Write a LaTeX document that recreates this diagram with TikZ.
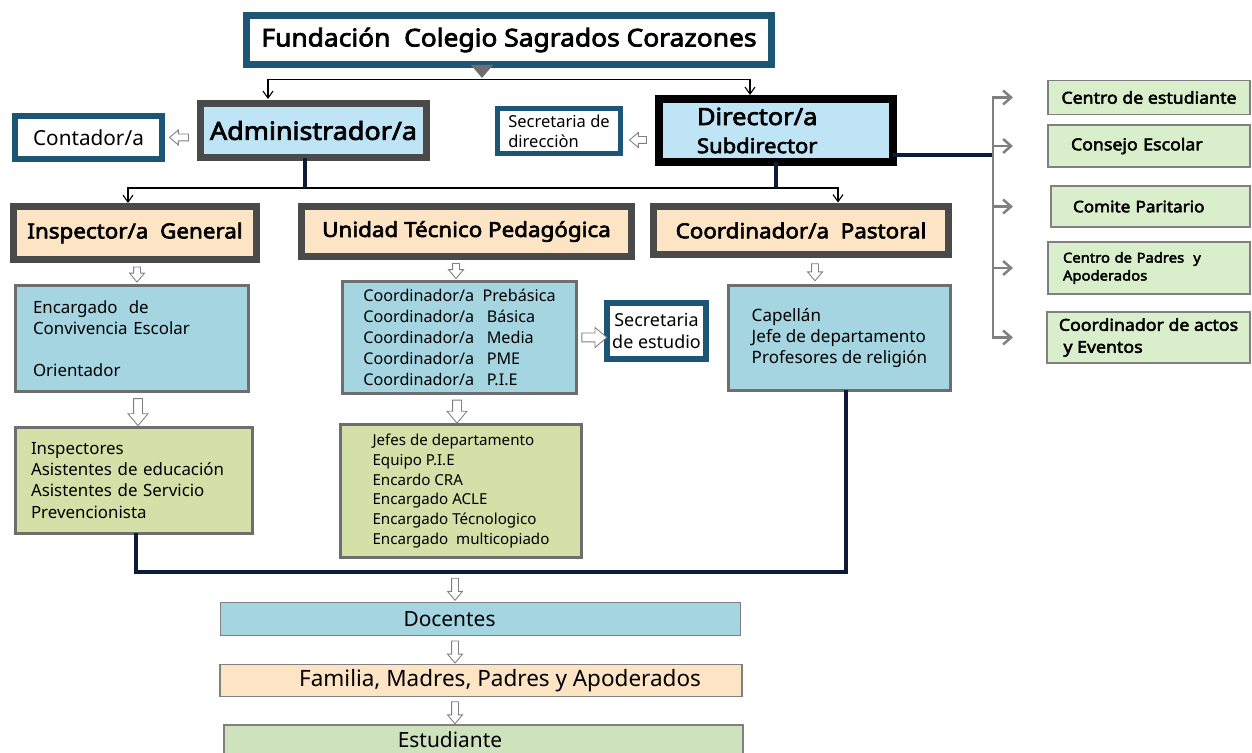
\documentclass[tikz,border=0pt]{standalone}
\usepackage{fontspec}
\setmainfont{Noto Sans}
\newfontfamily\negrita{Noto Sans}[FakeBold=3, FakeStretch=1.08]
\usetikzlibrary{calc}
\usetikzlibrary{arrows.meta}
\usetikzlibrary{shapes.arrows}

\definecolor{tealb}{HTML}{1D5674}
\definecolor{grisb}{HTML}{4A4A4A}
\definecolor{celeste}{HTML}{BEE4F5}
\definecolor{crema}{HTML}{FCE4C4}
\definecolor{azulc}{HTML}{A5D5E1}
\definecolor{oliva}{HTML}{D4E0A8}
\definecolor{verdec}{HTML}{D9EECB}
\definecolor{verdee}{HTML}{CEE2BE}
\definecolor{marino}{HTML}{0E1B38}
\definecolor{grisl}{HTML}{6E6E6E}

\begin{document}
\begin{tikzpicture}[x=0.02cm, y=-0.02cm,
    caja/.style={draw, inner sep=0pt, outer sep=0pt, align=center},
    blanca/.style={caja, draw=tealb, fill=white},
    jefe/.style={caja, draw=grisb, line width=0.14cm, fill=celeste},
    area/.style={caja, draw=grisb, line width=0.14cm, fill=crema, font=\fontsize{11.8}{14}\selectfont\negrita},
    lista/.style={caja, draw=grisl, line width=0.06cm, align=left, font=\fontsize{9.6}{12}\selectfont},
    consejo/.style={caja, draw=gray, line width=0.03cm, fill=verdec, align=left, font=\fontsize{9.35}{12.5}\selectfont\negrita},
    franja/.style={caja, draw=gray, line width=0.03cm},
    navy/.style={draw=marino, line width=0.08cm},
    flecha/.style={draw=black, line width=0.022cm, {Straight Barb[length=0.14cm,width=0.2cm]}-{Straight Barb[length=0.14cm,width=0.2cm]}},
    gflecha/.style={draw=gray, line width=0.05cm, -{Straight Barb[length=0.16cm,width=0.28cm]}},
    hueca/.style={single arrow, draw=gray, fill=white, line width=0.5pt, inner sep=0.06cm, single arrow head extend=0.08cm, single arrow tip angle=80, minimum height=#1, sloped, allow upside down},
    hueca/.default=0.38cm,
    huecag/.style={hueca=#1, inner sep=0.08cm, single arrow head extend=0.11cm}
]
    \useasboundingbox (0,0) rectangle (1252,753);

    % direccion
    \node[blanca, line width=0.14cm, minimum width=10.5cm, minimum height=1cm, font=\fontsize{13.9}{16}\selectfont\negrita] (fund) at (509,40) {Fundación\ \ Colegio Sagrados Corazones};
    \node[blanca, line width=0.12cm, minimum width=2.94cm, minimum height=0.86cm, font=\fontsize{11.8}{14}\selectfont] (cont) at (88.5,137.5) {Contador/a};
    \node[jefe, minimum width=4.54cm, minimum height=1.1cm, font=\fontsize{14.2}{17}\selectfont\negrita] (admin) at (313.5,130.5) {Administrador/a};
    \node[blanca, line width=0.1cm, minimum width=2.48cm, minimum height=0.92cm, align=left, font=\fontsize{9.4}{11.4}\selectfont] (secdir) at (559,131) {Secretaria de\\direcciòn};
    \node[jefe, draw=black, line width=0.16cm, minimum width=4.68cm, minimum height=1.26cm, text width=3.16cm, inner xsep=0.76cm, align=left, font=\fontsize{11.6}{16}\selectfont\negrita] (dir) at (776,130.5) {{\fontsize{13.4}{16}\selectfont Director/a}\\Subdirector};

    % consejos
    \node[consejo, minimum width=4.04cm, minimum height=0.68cm] (cest) at (1149,97.5) {Centro de estudiante};
    \node[consejo, minimum width=4.04cm, minimum height=0.84cm, text width=3.12cm, inner xsep=0.46cm] (cons) at (1149,146) {Consejo Escolar};
    \node[consejo, minimum width=3.98cm, minimum height=0.82cm, text width=3.1cm, inner xsep=0.44cm, font=\fontsize{9}{12}\selectfont\negrita] (comi) at (1150.5,206.5) {Comite Paritario};
    \node[consejo, minimum width=4.04cm, minimum height=1.04cm, text width=3.44cm, inner xsep=0.3cm, font=\fontsize{7.8}{10.2}\selectfont\negrita] (cpad) at (1149,268) {Centro de Padres\ \ y\\Apoderados};
    \node[consejo, minimum width=4.06cm, minimum height=1.02cm] (cact) at (1148.5,337.5) {Coordinador de actos\\\ y Eventos};

    % areas
    \node[area, minimum width=4.86cm, minimum height=1.06cm] (insp) at (135,233) {Inspector/a\ \ General};
    \node[area, minimum width=6.6cm, minimum height=1cm] (utp) at (466.5,231.5) {Unidad Técnico Pedagógica};
    \node[area, minimum width=5.9cm, minimum height=0.98cm] (past) at (801,230.5) {Coordinador/a\ \ Pastoral};

    \node[lista, fill=azulc, minimum width=4.66cm, minimum height=2.12cm, text width=3.96cm, inner xsep=0.35cm] (enc) at (132,338.5) {Encargado\ \ de\\Convivencia Escolar\\[12pt]Orientador};
    \node[lista, fill=azulc, minimum width=4.68cm, minimum height=2.24cm, font=\fontsize{9.2}{12}\selectfont] (coord) at (459.5,337.5) {Coordinador/a\ \ Prebásica\\Coordinador/a\ \ \ Básica\\Coordinador/a\ \ \ Media\\Coordinador/a\ \ \ PME\\Coordinador/a\ \ \ P.I.E};
    \node[lista, fill=azulc, minimum width=4.44cm, minimum height=2.1cm, font=\fontsize{9.7}{12.2}\selectfont] (cap) at (839.5,338) {Capellán\\Jefe de departamento\\Profesores de religión};
    \node[blanca, line width=0.12cm, minimum width=1.98cm, minimum height=1.12cm, font=\fontsize{10.2}{12.5}\selectfont] (secest) at (656.5,331) {Secretaria\\de estudio};

    \node[lista, fill=oliva, minimum width=4.74cm, minimum height=2.12cm, text width=4.12cm, inner xsep=0.31cm] (insg) at (134,480.5) {Inspectores\\Asistentes de educación\\Asistentes de Servicio\\Prevencionista};
    \node[lista, fill=oliva, minimum width=4.82cm, minimum height=2.66cm, font=\fontsize{8.6}{11.2}\selectfont] (jefes) at (461,491) {Jefes de departamento\\Equipo P.I.E\\Encardo CRA\\Encargado ACLE\\Encargado Técnologico\\Encargado\ \ multicopiado};

    % franjas
    \node[franja, fill=azulc, minimum width=10.4cm, minimum height=0.66cm, font=\fontsize{11.9}{14}\selectfont] (doc) at (480.5,619) {Docentes\kern1.24cm};
    \node[franja, fill=crema, minimum width=10.44cm, minimum height=0.64cm, font=\fontsize{12.8}{15}\selectfont] (fam) at (481,680.5) {\kern0.76cm Familia, Madres, Padres y Apoderados};
    \node[franja, fill=verdee, minimum width=10.38cm, minimum height=0.6cm, font=\fontsize{11.9}{14}\selectfont] (est) at (483.5,740) {Estudiante\kern1.34cm};

    % lineas
    \fill[grisl] ($(fund.south)+(-38,0)$) -- ++(22,0) -- ++(-11,13) -- cycle;
    \coordinate (ta) at ($(admin.north)+(-45.5,-4)$);
    \coordinate (td) at ($(dir.north)+(-26,-4)$);
    \coordinate (arriba) at ($(ta)+(0,-19.5)$);
    \draw[flecha] (ta) -- (arriba) -| (td);

    \coordinate (ti) at ($(insp.north)+(-7,-3.5)$);
    \coordinate (tp) at ($(past.north)+(37,-3.5)$);
    \coordinate (barra) at ($(ti)+(0,-15)$);
    \draw[flecha] (ti) -- (barra) -| (tp);
    \coordinate (ad) at ($(admin.south)+(-8.5,0)$);
    \draw[navy] (ad) -- (ad |- barra);
    \draw[navy] (dir.south) -- (dir.south |- barra);

    \coordinate (bus) at ($(dir.east)+(100,24.5)$);
    \coordinate (punta) at ($(bus)+(20,0)$);
    \draw[navy] ($(dir.east)+(0,24.5)$) -- (bus);
    \foreach \c in {cest,cons,comi,cpad,cact}
        \draw[gflecha] (bus) |- (\c.west -| punta);

    \coordinate (fondo) at (455,572);
    \draw[navy] ($(insg.south)+(2,0)$) |- (fondo) -| ($(cap.south)+(6.5,0)$);

    % flechas huecas
    \path (admin.west |- cont.east) -- node[hueca]{} (cont.east);
    \path ($(dir.west)+(0,9.5)$) -- node[hueca=0.34cm]{} ($(secdir.east)+(0,9)$);
    \coordinate (h1) at ($(insp.south)+(2,0)$);
    \path (h1) -- node[hueca=0.3cm]{} (h1 |- enc.north);
    \coordinate (h2) at ($(utp.south)+(-10.5,0)$);
    \path (h2) -- node[hueca=0.3cm]{} (h2 |- coord.north);
    \coordinate (h3) at ($(past.south)+(14,0)$);
    \path (h3) -- node[hueca=0.34cm]{} (h3 |- cap.north);
    \path (coord.east) -- node[huecag=0.5cm]{} (coord.east -| secest.west);
    \coordinate (h4) at ($(enc.south)+(6,0)$);
    \path (h4) -- node[huecag=0.54cm]{} (h4 |- insg.north);
    \coordinate (h5) at ($(coord.south)+(-2.5,0)$);
    \path (h5) -- node[huecag=0.46cm]{} (h5 |- jefes.north);
    \path (fondo) -- node[hueca=0.44cm]{} (fondo |- doc.north);
    \coordinate (h6) at (doc.south -| fondo);
    \path (h6) -- node[hueca=0.44cm]{} (h6 |- fam.north);
    \coordinate (h7) at (fam.south -| fondo);
    \path (h7) -- node[hueca=0.44cm]{} (h7 |- est.north);
\end{tikzpicture}
\end{document}
